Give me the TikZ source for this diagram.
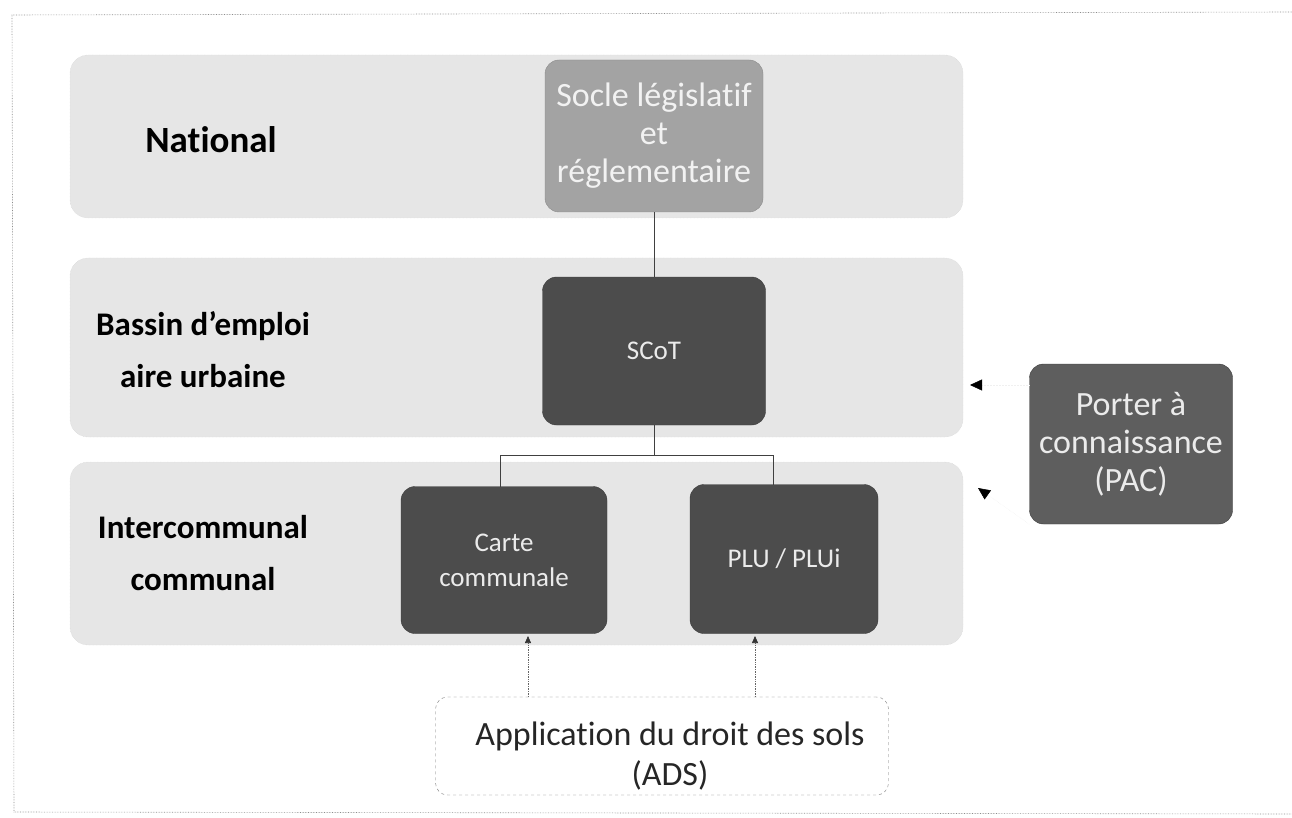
\documentclass[tikz,border=0pt]{standalone}
\usepackage{fontspec}
\setmainfont{Carlito}[Ligatures=NoCommon]
\usetikzlibrary{arrows.meta}
\definecolor{bandgray}{HTML}{E6E6E6}
\definecolor{darkbox}{HTML}{4C4C4C}
\definecolor{socle}{HTML}{A3A3A3}
\definecolor{pacbox}{HTML}{5E5E5E}
\tikzset{
  band/.style={fill=bandgray, draw=bandgray!80!gray, densely dotted, rounded corners=18pt},
  lvl/.style={font=\fontsize{33}{52}\selectfont\bfseries, align=center, text=black},
  dbox/.style={fill=darkbox, draw=darkbox!80!black, rounded corners=14pt, text=white!92!black, align=center, font=\fontsize{27}{35}\selectfont},
  bigtxt/.style={font=\fontsize{34}{38}\selectfont},
  conn/.style={draw=black!75, line width=0.8pt},
  ads/.style={-{Triangle[length=7pt,width=6pt,color=black!80]}, draw=black!60, densely dotted, line width=0.7pt},
  pac/.style={-{Triangle[length=12pt,width=11pt,color=black]}, draw=black!6, densely dotted, line width=0.5pt},
}
\begin{document}
\begin{tikzpicture}[x=1pt,y=-1pt]
\useasboundingbox (0,0) rectangle (1292,818);
% page frame (scan)
\draw[black!45, densely dotted, line width=0.6pt] (1292,12) -- (12,15) -- (14,812) -- (1292,814);
% bands
\path[band] (70,55) rectangle (963,218);
\path[band] (70,258) rectangle (963,437);
\path[band] (70,462) rectangle (963,645);
% level labels
\node[lvl, font=\fontsize{37}{52}\selectfont\bfseries] (lnat) at (211,140) {National};
\node[lvl] (lbas) at (203,350) {Bassin d’emploi\\aire urbaine};
\node[lvl] (lint) at (203,553) {Intercommunal\\communal};
% boxes
\node[dbox, bigtxt, fill=socle, draw=socle!85!black, minimum width=218pt, minimum height=152pt, text=white!95!black] (socle) at (654,136) {Socle législatif\\et\\réglementaire};
\node[dbox, minimum width=223pt, minimum height=148pt] (scot) at (654,351) {SCoT};
\node[dbox, minimum width=206pt, minimum height=147pt] (carte) at (504,560) {Carte\\communale};
\node[dbox, minimum width=188pt, minimum height=149pt] (plu) at (784,559) {PLU / PLUi};
\node[dbox, bigtxt, fill=pacbox, minimum width=203pt, minimum height=160pt] (pac) at (1131,444) {Porter à\\connaissance\\(PAC)};
\node[draw=black!55, dashed, rounded corners=12pt, minimum width=453pt, minimum height=98pt] (adsbox) at (662,746) {};
\node[align=center, font=\fontsize{34}{40}\selectfont, text=black!85] (adstext) at (670,756) {Application du droit des sols\\(ADS)};
% connectors
\draw[conn] (socle.south) -- (scot.north);
\coordinate (split) at (654,455);
\draw[conn] (scot.south) -- (split);
\draw[conn] (500,455) -- (773,455);
\draw[conn] (500,455) -- (500,487);
\draw[conn] (773,455) -- (773,485);
% ADS arrows
\draw[ads] (adsbox.north -| 528,0) -- (528,636);
\draw[ads] (adsbox.north -| 755,0) -- (755,636);
% PAC arrows
\coordinate (pt1) at (970,385);
\coordinate (pt2) at (978,488);
\draw[pac] (pac.west |- pt1) -- (pt1);
\draw[pac] (pac.south west) -- (pt2);
\end{tikzpicture}
\end{document}
